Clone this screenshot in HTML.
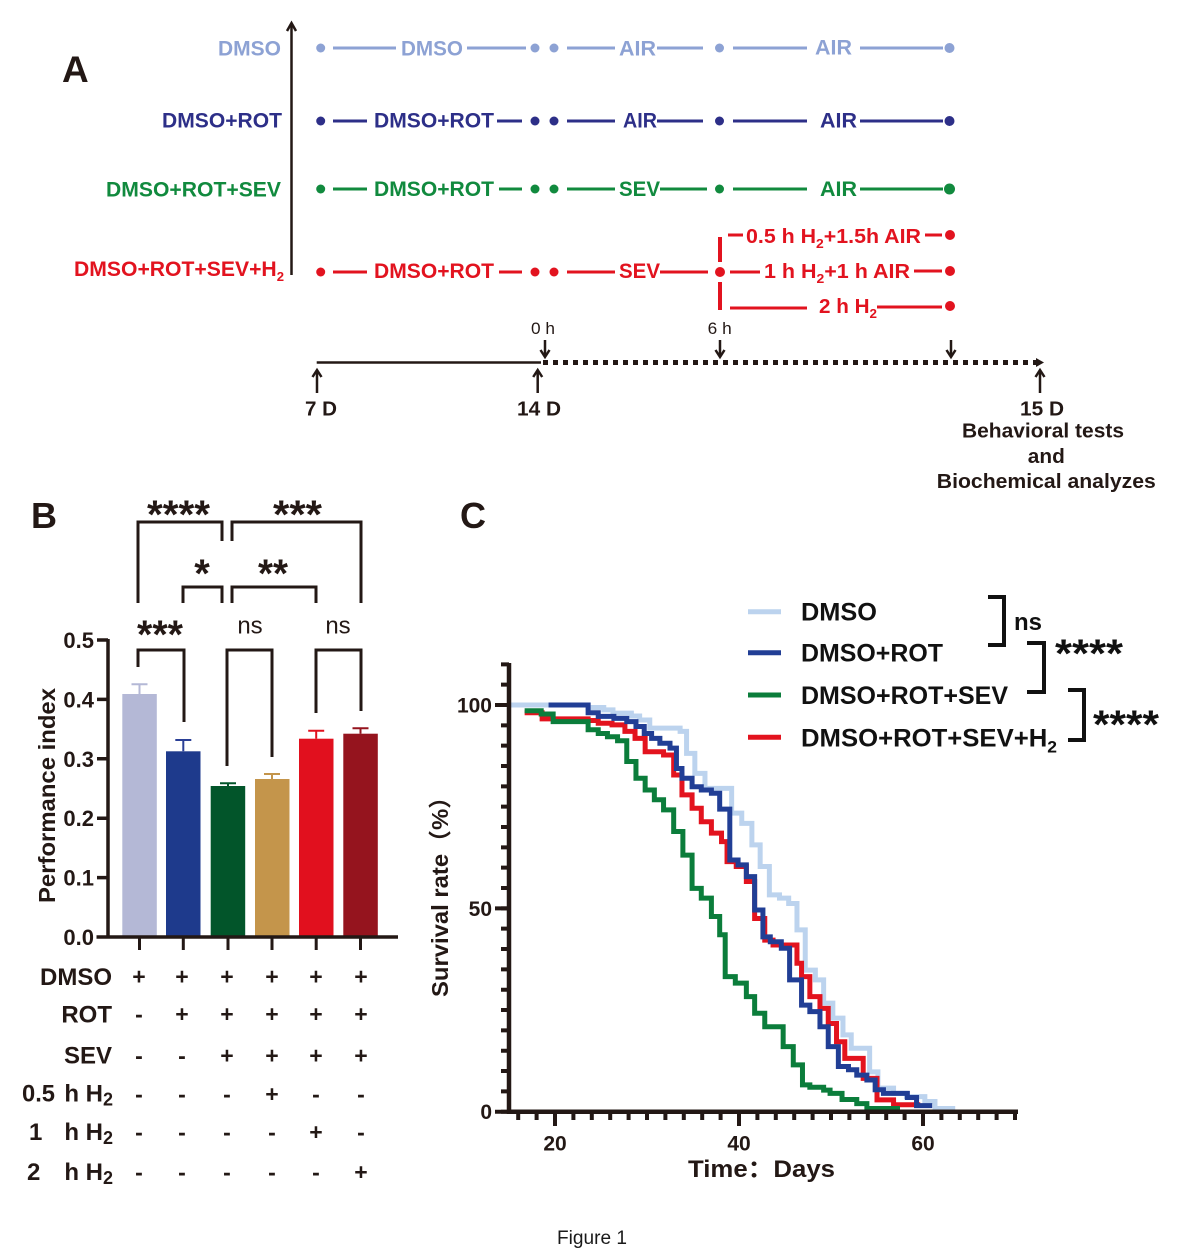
<!DOCTYPE html>
<html><head><meta charset="utf-8"><style>
html,body{margin:0;padding:0;background:#fff;}
svg{display:block;}
text{font-family:"Liberation Sans",Arial,"Noto Sans CJK SC",sans-serif;}
</style></head><body>
<svg width="1187" height="1260" viewBox="0 0 1187 1260" xmlns="http://www.w3.org/2000/svg">
<rect width="1187" height="1260" fill="#fff"/>

<!-- ================= PANEL A ================= -->
<text x="62" y="82" font-size="37" font-weight="bold" fill="#231815">A</text>
<line x1="291.5" y1="24" x2="291.5" y2="275" stroke="#231815" stroke-width="2.5"/>
<polyline points="287,31 291.5,23 296,31" fill="none" stroke="#231815" stroke-width="2.5"/>

<g font-weight="bold" font-size="21">
<text x="281" y="55.5" text-anchor="end" fill="#8da2d4" textLength="63" lengthAdjust="spacingAndGlyphs">DMSO</text>
<text x="282" y="127.5" text-anchor="end" fill="#2d2f88" textLength="120" lengthAdjust="spacingAndGlyphs">DMSO+ROT</text>
<text x="281" y="196.5" text-anchor="end" fill="#118a3e" textLength="175" lengthAdjust="spacingAndGlyphs">DMSO+ROT+SEV</text>
<text x="74" y="276" fill="#e2131f" textLength="210" lengthAdjust="spacingAndGlyphs">DMSO+ROT+SEV+H<tspan font-size="13" dy="5">2</tspan></text>
</g>

<!-- Row 1 -->
<g stroke="#8da2d4" stroke-width="3" fill="#8da2d4">
<circle cx="320.7" cy="48" r="4.5" stroke="none"/>
<line x1="333" y1="48" x2="396" y2="48"/>
<line x1="467" y1="48" x2="526" y2="48"/>
<circle cx="535" cy="48" r="4.5" stroke="none"/><circle cx="554" cy="48" r="4.5" stroke="none"/>
<line x1="567" y1="48" x2="615" y2="48"/>
<line x1="657" y1="48" x2="703" y2="48"/>
<circle cx="719.5" cy="48" r="4.5" stroke="none"/>
<line x1="733" y1="48" x2="807" y2="48"/>
<line x1="860" y1="48" x2="943" y2="48"/>
<circle cx="949.5" cy="48" r="5" stroke="none"/>
</g>
<g font-weight="bold" font-size="21" fill="#8da2d4">
<text x="401" y="55.5" textLength="62" lengthAdjust="spacingAndGlyphs">DMSO</text>
<text x="619" y="55.5" textLength="37" lengthAdjust="spacingAndGlyphs">AIR</text>
<text x="815" y="54.5" textLength="37" lengthAdjust="spacingAndGlyphs">AIR</text>
</g>

<!-- Row 2 -->
<g stroke="#2d2f88" stroke-width="3" fill="#2d2f88">
<circle cx="320.7" cy="121" r="4.5" stroke="none"/>
<line x1="333" y1="121" x2="367" y2="121"/>
<line x1="497" y1="121" x2="522" y2="121"/>
<circle cx="535" cy="121" r="4.5" stroke="none"/><circle cx="554" cy="121" r="4.5" stroke="none"/>
<line x1="567" y1="121" x2="615" y2="121"/>
<line x1="657" y1="121" x2="703" y2="121"/>
<circle cx="719.5" cy="121" r="4.5" stroke="none"/>
<line x1="733" y1="121" x2="807" y2="121"/>
<line x1="860" y1="121" x2="943" y2="121"/>
<circle cx="949.5" cy="121" r="5" stroke="none"/>
</g>
<g font-weight="bold" font-size="21" fill="#2d2f88">
<text x="374" y="127.5" textLength="120" lengthAdjust="spacingAndGlyphs">DMSO+ROT</text>
<text x="623" y="127.5" textLength="34" lengthAdjust="spacingAndGlyphs">AIR</text>
<text x="820" y="127.5" textLength="37" lengthAdjust="spacingAndGlyphs">AIR</text>
</g>

<!-- Row 3 -->
<g stroke="#118a3e" stroke-width="3" fill="#118a3e">
<circle cx="320.7" cy="189" r="4.5" stroke="none"/>
<line x1="333" y1="189" x2="367" y2="189"/>
<line x1="499" y1="189" x2="522" y2="189"/>
<circle cx="535" cy="189" r="4.5" stroke="none"/><circle cx="554" cy="189" r="4.5" stroke="none"/>
<line x1="567" y1="189" x2="615" y2="189"/>
<line x1="660" y1="189" x2="707" y2="189"/>
<circle cx="719.5" cy="189" r="4.5" stroke="none"/>
<line x1="733" y1="189" x2="807" y2="189"/>
<line x1="860" y1="189" x2="943" y2="189"/>
<circle cx="949.5" cy="189" r="5.5" stroke="none"/>
</g>
<g font-weight="bold" font-size="21" fill="#118a3e">
<text x="374" y="196" textLength="120" lengthAdjust="spacingAndGlyphs">DMSO+ROT</text>
<text x="619" y="196" textLength="41" lengthAdjust="spacingAndGlyphs">SEV</text>
<text x="820" y="196" textLength="37" lengthAdjust="spacingAndGlyphs">AIR</text>
</g>

<!-- Row 4 -->
<g stroke="#e2131f" stroke-width="3" fill="#e2131f">
<circle cx="320.7" cy="272" r="4.5" stroke="none"/>
<line x1="333" y1="272" x2="367" y2="272"/>
<line x1="499" y1="272" x2="522" y2="272"/>
<circle cx="535" cy="272" r="4.5" stroke="none"/><circle cx="554" cy="272" r="4.5" stroke="none"/>
<line x1="567" y1="272" x2="615" y2="272"/>
<line x1="660" y1="272" x2="708" y2="272"/>
<circle cx="720" cy="272" r="5" stroke="none"/>
<line x1="730" y1="272" x2="760" y2="272"/>
<line x1="914" y1="271" x2="942" y2="271"/>
<circle cx="950" cy="271" r="5" stroke="none"/>
<line x1="720" y1="237" x2="720" y2="262" stroke-width="4"/>
<line x1="720" y1="282" x2="720" y2="310" stroke-width="4"/>
<line x1="728" y1="235" x2="743" y2="235"/>
<line x1="925" y1="235" x2="942" y2="235"/>
<circle cx="950" cy="235" r="5" stroke="none"/>
<line x1="730" y1="308" x2="807" y2="308"/>
<line x1="877" y1="307" x2="942" y2="307"/>
<circle cx="950" cy="306" r="5" stroke="none"/>
</g>
<g font-weight="bold" font-size="21" fill="#e2131f">
<text x="374" y="278" textLength="120" lengthAdjust="spacingAndGlyphs">DMSO+ROT</text>
<text x="619" y="278" textLength="41" lengthAdjust="spacingAndGlyphs">SEV</text>
<text x="746" y="243" font-size="20" textLength="175" lengthAdjust="spacingAndGlyphs">0.5 h H<tspan font-size="13" dy="5">2</tspan><tspan dy="-5">+1.5h AIR</tspan></text>
<text x="764" y="278" font-size="20" textLength="146" lengthAdjust="spacingAndGlyphs">1 h H<tspan font-size="13" dy="5">2</tspan><tspan dy="-5">+1 h AIR</tspan></text>
<text x="819" y="313" font-size="20" textLength="58" lengthAdjust="spacingAndGlyphs">2 h H<tspan font-size="13" dy="5">2</tspan></text>
</g>

<!-- Timeline -->
<g stroke="#231815" fill="none" stroke-width="2.5">
<line x1="316.7" y1="362.5" x2="541" y2="362.5"/>
<line x1="543" y1="362.5" x2="1036" y2="362.5" stroke-width="5" stroke-dasharray="5 5"/>
<line x1="545" y1="340" x2="545" y2="356"/><polyline points="540.5,350 545,357 549.5,350"/>
<line x1="720" y1="340" x2="720" y2="356"/><polyline points="715.5,350 720,357 724.5,350"/>
<line x1="951" y1="340" x2="951" y2="356"/><polyline points="946.5,350 951,357 955.5,350"/>
<line x1="317" y1="393" x2="317" y2="371"/><polyline points="312.5,377 317,370 321.5,377"/>
<line x1="537.7" y1="393" x2="537.7" y2="371"/><polyline points="533.2,377 537.7,370 542.2,377"/>
<line x1="1040" y1="393" x2="1040" y2="371"/><polyline points="1035.5,377 1040,370 1044.5,377"/>
</g>
<polygon points="1036,358 1044,362.5 1036,367" fill="#231815"/>
<g fill="#231815">
<text x="543" y="334" font-size="17" text-anchor="middle" textLength="24" lengthAdjust="spacingAndGlyphs">0 h</text>
<text x="719.7" y="334" font-size="17" text-anchor="middle" textLength="24" lengthAdjust="spacingAndGlyphs">6 h</text>
<g font-weight="bold" font-size="20">
<text x="321" y="415.5" text-anchor="middle" textLength="32" lengthAdjust="spacingAndGlyphs">7 D</text>
<text x="539" y="415.5" text-anchor="middle" textLength="44" lengthAdjust="spacingAndGlyphs">14 D</text>
<text x="1042" y="415.5" text-anchor="middle" textLength="44" lengthAdjust="spacingAndGlyphs">15 D</text>
<text x="1043" y="437.3" text-anchor="middle" textLength="162" lengthAdjust="spacingAndGlyphs">Behavioral tests</text>
<text x="1046.3" y="463" text-anchor="middle" textLength="37" lengthAdjust="spacingAndGlyphs">and</text>
<text x="1046.3" y="488" text-anchor="middle" textLength="219" lengthAdjust="spacingAndGlyphs">Biochemical analyzes</text>
</g>
</g>

<!-- ================= PANEL B ================= -->
<text x="31" y="528" font-size="36" font-weight="bold" fill="#231815">B</text>

<rect x="122.3" y="694" width="34.5" height="243" fill="#b4b8d6"/>
<rect x="166" y="751.3" width="34.5" height="185.7" fill="#1e3a8c"/>
<rect x="210.7" y="786" width="34.5" height="151" fill="#02552a"/>
<rect x="255" y="779" width="34.5" height="158" fill="#c4954b"/>
<rect x="299" y="738.7" width="34.5" height="198.3" fill="#e1101e"/>
<rect x="343.3" y="733.7" width="34.5" height="203.3" fill="#95141e"/>
<g stroke-width="2">
<path d="M139.5,694 V684.3 M131.5,684.3 H147.5" stroke="#b4b8d6"/>
<path d="M183.3,751.3 V740 M175.3,740 H191.3" stroke="#2a3f96"/>
<path d="M228,786 V783.3 M220,783.3 H236" stroke="#02552a"/>
<path d="M272,779 V774 M264,774 H280" stroke="#c4954b"/>
<path d="M316.2,738.7 V730.7 M308.2,730.7 H324.2" stroke="#e1101e"/>
<path d="M360.5,733.7 V728.3 M352.5,728.3 H368.5" stroke="#95141e"/>
</g>
<g stroke="#231815" stroke-width="3.5" fill="none">
<line x1="108" y1="639" x2="108" y2="938.5"/>
<line x1="96.5" y1="937" x2="398" y2="937"/>
<path d="M97,640 H108 M97,699.4 H108 M97,758.8 H108 M97,818.2 H108 M97,877.6 H108"/>
<path d="M139.5,937 V950 M183.3,937 V950 M228,937 V950 M272,937 V950 M316.2,937 V950 M360.5,937 V950" stroke-width="3"/>
</g>
<g font-size="22" font-weight="bold" fill="#231815" text-anchor="end">
<text x="94" y="648">0.5</text>
<text x="94" y="707.4">0.4</text>
<text x="94" y="766.8">0.3</text>
<text x="94" y="826.2">0.2</text>
<text x="94" y="885.6">0.1</text>
<text x="94" y="945">0.0</text>
</g>
<text transform="translate(55,795.5) rotate(-90)" text-anchor="middle" font-size="23" font-weight="bold" fill="#231815" textLength="215" lengthAdjust="spacingAndGlyphs">Performance index</text>

<g stroke="#231815" stroke-width="3" fill="none">
<path d="M138,667 V650 H184 V722"/>
<path d="M227,766 V650 H272 V757"/>
<path d="M316,713 V650 H361 V711"/>
<path d="M183,603 V587 H222 V603"/>
<path d="M232,603 V587 H316 V603"/>
<path d="M138,603 V522 H222 V541"/>
<path d="M232,541 V522 H361 V603"/>
</g>
<g font-size="40" font-weight="bold" fill="#231815" text-anchor="middle">
<text x="160" y="648" textLength="46" lengthAdjust="spacingAndGlyphs">***</text>
<text x="202" y="587">*</text>
<text x="273" y="587" textLength="30" lengthAdjust="spacingAndGlyphs">**</text>
<text x="178.5" y="528" textLength="63" lengthAdjust="spacingAndGlyphs">****</text>
<text x="297.5" y="528" textLength="49" lengthAdjust="spacingAndGlyphs">***</text>
</g>
<g font-size="24" fill="#231815" text-anchor="middle">
<text x="250" y="633.5">ns</text>
<text x="338" y="633.5">ns</text>
</g>

<g font-size="24" font-weight="bold" fill="#231815">
<text x="112" y="985" text-anchor="end" textLength="72" lengthAdjust="spacingAndGlyphs">DMSO</text>
<text x="112" y="1022.7" text-anchor="end">ROT</text>
<text x="112" y="1063.3" text-anchor="end">SEV</text>
<text x="22" y="1101.7" textLength="33" lengthAdjust="spacingAndGlyphs">0.5</text>
<text x="29" y="1140">1</text>
<text x="27" y="1180">2</text>
<text x="113" y="1101.7" text-anchor="end">h H<tspan font-size="18" dy="4">2</tspan></text>
<text x="113" y="1140" text-anchor="end">h H<tspan font-size="18" dy="4">2</tspan></text>
<text x="113" y="1180" text-anchor="end">h H<tspan font-size="18" dy="4">2</tspan></text>
</g>
<g font-size="23" font-weight="bold" fill="#231815" text-anchor="middle">
<text x="139" y="984.5">+</text><text x="182" y="984.5">+</text><text x="227" y="984.5">+</text><text x="272" y="984.5">+</text><text x="316" y="984.5">+</text><text x="361" y="984.5">+</text>
<text x="139" y="1022">-</text><text x="182" y="1022">+</text><text x="227" y="1022">+</text><text x="272" y="1022">+</text><text x="316" y="1022">+</text><text x="361" y="1022">+</text>
<text x="139" y="1063.5">-</text><text x="182" y="1063.5">-</text><text x="227" y="1063.5">+</text><text x="272" y="1063.5">+</text><text x="316" y="1063.5">+</text><text x="361" y="1063.5">+</text>
<text x="139" y="1102">-</text><text x="182" y="1102">-</text><text x="227" y="1102">-</text><text x="272" y="1102">+</text><text x="316" y="1102">-</text><text x="361" y="1102">-</text>
<text x="139" y="1140">-</text><text x="182" y="1140">-</text><text x="227" y="1140">-</text><text x="272" y="1140">-</text><text x="316" y="1140">+</text><text x="361" y="1140">-</text>
<text x="139" y="1180">-</text><text x="182" y="1180">-</text><text x="227" y="1180">-</text><text x="272" y="1180">-</text><text x="316" y="1180">-</text><text x="361" y="1180">+</text>
</g>

<!-- ================= PANEL C ================= -->
<text x="460" y="528" font-size="36" font-weight="bold" fill="#231815">C</text>

<g transform="matrix(9.2 0 0 -4.067 371 1111.7)" fill="none" stroke-width="5" stroke-linejoin="miter">
<path vector-effect="non-scaling-stroke" stroke="#bcd3ee" d="M15 100 H23.6 V99.4 H25.3 V98.8 H26.3 V98 H28.3 V97.3 H29.2 V96.3 H30.3 V94.3 H33.6 V93.5 H34.3 V88.1 H35.2 V83.2 H36.3 V79.5 H39.2 V73.4 H40.3 V70.9 H41.4 V65.6 H42.3 V60.3 H43.3 V53.3 H44.4 V52.5 H45.4 V51.2 H46.3 V44.7 H47.2 V34.8 H48.3 V32.4 H49.2 V26.7 H50.2 V23 H51.3 V18.9 H52.2 V15.6 H54.2 V9.8 H55.1 V5.8 H56.8 V4.5 H58.2 V3.7 H60.2 V2.5 H61.3 V0.8 H63.5"/>
<path vector-effect="non-scaling-stroke" stroke="#e3131e" d="M16.7 98.1 H18.6 V96.6 H23.6 V96.2 H24.7 V95.5 H26.2 V95.1 H27.6 V93.5 H28.7 V91.8 H29.8 V88.5 H31.8 V87.7 H32.9 V82.8 H33.8 V77.9 H34.9 V74.6 H35.9 V71.3 H37 V68.5 H38.1 V66.4 H38.7 V61.5 H39.7 V60.3 H40.8 V56.6 H41.7 V47.5 H42.8 V42.2 H43.7 V41 H46.3 V36.5 H46.8 V33.2 H47.7 V28.3 H48.8 V25.4 H49.7 V21.7 H50.6 V17.2 H51.5 V13.1 H53.5 V8.2 H55 V2.9 H56.8 V1.7 H59.7"/>
<path vector-effect="non-scaling-stroke" stroke="#213e95" d="M19.3 100 H23.6 V98.1 H24.7 V97.2 H26.4 V96.7 H27.8 V95.9 H28.8 V94.7 H29.7 V93 H30.5 V91.8 H31.4 V90.6 H32.5 V89.4 H33.2 V84.4 H33.8 V82 H34.9 V79.9 H35.9 V79.1 H37 V78.3 H37.9 V74.4 H39 V61.9 H39.9 V60.7 H40.8 V57.8 H41.7 V49.6 H42.6 V43 H43.4 V41.8 H44.6 V40.2 H45.5 V32.4 H46.8 V26.2 H47.7 V24.6 H48.8 V20.9 H49.7 V16 H50.8 V11.1 H51.9 V10.3 H52.8 V9 H53.9 V7.8 H54.8 V5.4 H55.7 V4.5 H58.3 V3.5 H59.3 V1.5 H61"/>
<path vector-effect="non-scaling-stroke" stroke="#0b7d3b" d="M16.7 98.6 H18.5 V97.8 H19.8 V95.9 H23.6 V93.9 H24.7 V93 H25.7 V92.2 H26.8 V91.2 H27.8 V86.1 H28.8 V82 H29.8 V79.1 H30.8 V76.7 H31.8 V74.2 H32.9 V68.9 H33.9 V63.1 H34.9 V54.9 H35.9 V52.5 H37 V48 H37.9 V43.5 H38.5 V33.2 H39.6 V31.6 H40.8 V28.3 H41.7 V24.2 H42.8 V20.9 H44.8 V16 H45.9 V11.5 H46.9 V6.6 H47.7 V6 H49.2 V5.3 H49.9 V4.5 H51.2 V3 H52.8 V2 H53.9 V0.8 H57.5"/>
</g>

<g stroke="#231815" fill="none">
<line x1="509" y1="663" x2="509" y2="1114" stroke-width="4.5"/>
<line x1="507" y1="1111.7" x2="1018" y2="1111.7" stroke-width="4.5"/>
<line x1="505" y1="1113.7" x2="505" y2="662" stroke-width="8" stroke-dasharray="4 16.335"/>
<path d="M495,1111.7 H509 M495,908.4 H509 M495,705 H509" stroke-width="4"/>
<line x1="516.2" y1="1116" x2="1017.5" y2="1116" stroke-width="8" stroke-dasharray="4 14.4"/>
<path d="M555,1112 V1126 M739,1112 V1126 M923,1112 V1126" stroke-width="4"/>
</g>
<g font-size="21" font-weight="bold" fill="#231815">
<text x="492" y="712.5" text-anchor="end">100</text>
<text x="492" y="916" text-anchor="end">50</text>
<text x="492" y="1119.2" text-anchor="end">0</text>
<text x="555" y="1150.5" text-anchor="middle">20</text>
<text x="739" y="1150.5" text-anchor="middle">40</text>
<text x="923" y="1150.5" text-anchor="middle">60</text>
</g>
<text x="688" y="1177" font-size="24" font-weight="bold" fill="#231815" textLength="147" lengthAdjust="spacingAndGlyphs" style="font-family:'Liberation Sans','Noto Sans CJK SC',sans-serif">Time：Days</text>
<text transform="translate(448,891) rotate(-90)" text-anchor="middle" font-size="23" font-weight="bold" fill="#231815" textLength="212" lengthAdjust="spacingAndGlyphs" style="font-family:'Liberation Sans','Noto Sans CJK SC',sans-serif">Survival rate（%）</text>

<g stroke-width="5">
<line x1="748" y1="611.7" x2="781" y2="611.7" stroke="#bcd3ee"/>
<line x1="748" y1="652.7" x2="781" y2="652.7" stroke="#213e95"/>
<line x1="748" y1="695" x2="781" y2="695" stroke="#0b7d3b"/>
<line x1="748" y1="737.3" x2="781" y2="737.3" stroke="#e3131e"/>
</g>
<g font-size="25" font-weight="bold" fill="#111">
<text x="801" y="620.7" textLength="76" lengthAdjust="spacingAndGlyphs">DMSO</text>
<text x="801" y="661.7" textLength="142" lengthAdjust="spacingAndGlyphs">DMSO+ROT</text>
<text x="801" y="704" textLength="207" lengthAdjust="spacingAndGlyphs">DMSO+ROT+SEV</text>
<text x="801" y="746.3" textLength="256" lengthAdjust="spacingAndGlyphs">DMSO+ROT+SEV+H<tspan font-size="17" dy="6">2</tspan></text>
</g>
<g stroke="#111" stroke-width="4" fill="none">
<path d="M988,597 H1004 V645 H988"/>
<path d="M1027,643 H1044 V692 H1027"/>
<path d="M1068,690 H1084 V740 H1068"/>
</g>
<text x="1014" y="630" font-size="24" font-weight="bold" fill="#111" textLength="28" lengthAdjust="spacingAndGlyphs">ns</text>
<g font-size="40" font-weight="bold" fill="#111">
<text x="1055" y="667" textLength="68" lengthAdjust="spacingAndGlyphs">****</text>
<text x="1093" y="738" textLength="66" lengthAdjust="spacingAndGlyphs">****</text>
</g>

<text x="557" y="1244" font-size="19" fill="#1a1a1a" textLength="70" lengthAdjust="spacingAndGlyphs">Figure 1</text>
</svg>
</body></html>
